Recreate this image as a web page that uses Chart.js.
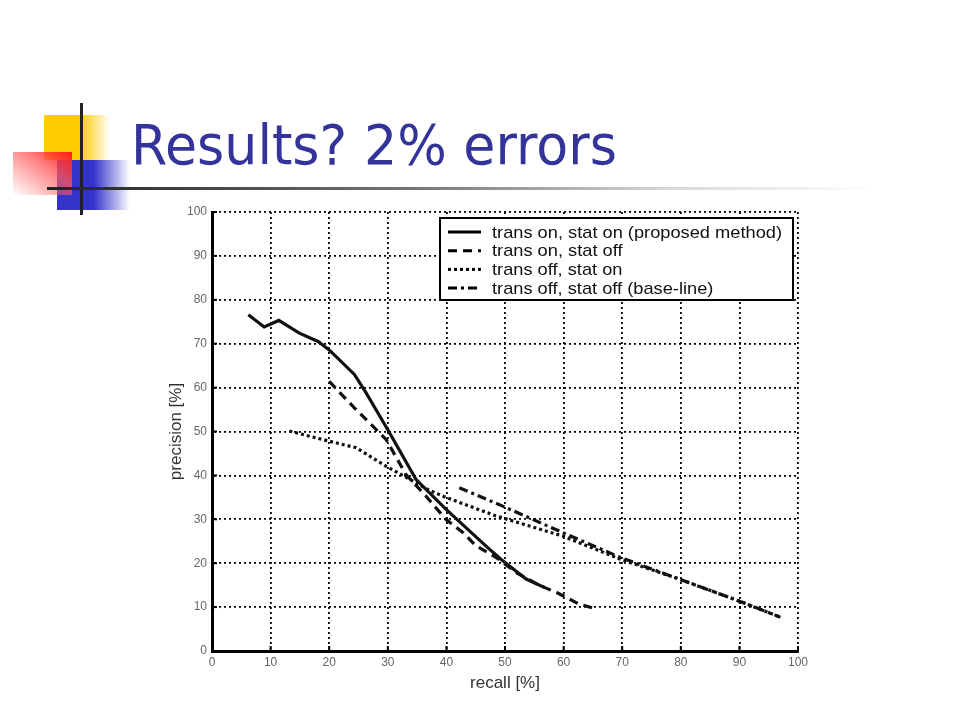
<!DOCTYPE html>
<html>
<head>
<meta charset="utf-8">
<script src="https://cdn.jsdelivr.net/npm/chart.js@4.4.1/dist/chart.umd.min.js"></script>
<style>
    html, body { margin: 0; padding: 0; background: #fff; }
    body { width: 960px; height: 720px; position: relative; overflow: hidden; }
    .deco { position: absolute; }
    #yellow { left: 44px; top: 115px; width: 66px; height: 45px;
        background: linear-gradient(to right, #ffcc00 0%, #ffcc00 55%, rgba(255,204,0,0) 100%); }
    #blue { left: 57px; top: 160px; width: 73px; height: 50px;
        background: linear-gradient(to right, #3333cc 0%, #3333cc 50%, rgba(51,51,204,0) 100%); }
    #red { left: 13px; top: 152px; width: 59px; height: 43px;
        background: linear-gradient(to bottom left, #ff1a1a 0%, rgba(255,90,90,0.75) 40%, rgba(255,255,255,0) 100%); }
    #vline { left: 80px; top: 103px; width: 3px; height: 112px; background: #222; }
    #hline { left: 47px; top: 187px; width: 830px; height: 3px;
        background: linear-gradient(to right, #222 0%, #777 45%, #d8d8d8 75%, rgba(255,255,255,0) 100%); }
    #title { position: absolute; left: 131px; top: 118px; margin: 0;
        font-family: "DejaVu Sans", sans-serif; font-size: 55px; line-height: 55px;
        font-weight: normal; color: #333399; white-space: nowrap; transform-origin: left top; }
    #chart-wrap { position: absolute; left: 0; top: 0; width: 960px; height: 720px; }
</style>
</head>
<body>
<div class="deco" id="yellow"></div>
<div class="deco" id="blue"></div>
<div class="deco" id="red"></div>
<div class="deco" id="vline"></div>
<div class="deco" id="hline"></div>
<h1 id="title">Results? 2% errors</h1>
<div id="chart-wrap"><canvas id="pr-chart" width="960" height="720"></canvas></div>
<script>
// values (recall %, precision %)
const seriesLabels = [
    "trans on, stat on (proposed method)",
    "trans on, stat off",
    "trans off, stat on",
    "trans off, stat off (base-line)"
];

const proposedRecall = [6.2, 8.9, 11.4, 14.9, 18.1, 20, 24.3, 26.3, 30, 34.8, 39.9, 47, 49.3, 53.6, 56.7];
const proposedPrecision = [76.6, 73.8, 75.3, 72.4, 70.5, 68.6, 63, 58.8, 50.4, 39.1, 32.3, 23.6, 20.9, 16.4, 14.5];

const statOffRecall = [20, 24.3, 29.7, 33.1, 36.5, 39.9, 42.8, 45, 48.5, 52, 55.8, 59, 62.6, 65.5];
const statOffPrecision = [61.4, 55.4, 48.2, 40.2, 35.3, 30, 27, 24, 21.3, 17.8, 15, 13.2, 10.7, 9.6];

const transOffRecall = [13.2, 20, 24.6, 29.7, 34.3, 37.1, 39.9, 48.4, 59.8, 69.7, 79.7, 89.9, 97];
const transOffPrecision = [50.1, 47.8, 46.3, 42.1, 38.7, 36.6, 35, 30.8, 26.2, 20.9, 16.4, 11.4, 7.7];

const baselineRecall = [42.2, 49.6, 59.8, 69.7, 79.7, 89.9, 97];
const baselinePrecision = [37.2, 33, 27, 21.3, 16.4, 11.4, 7.7];

const tickValues = [0, 10, 20, 30, 40, 50, 60, 70, 80, 90, 100];

// fit the slide title to the width it has in the picture
const fitTitle = () => {
    const title = document.getElementById("title");
    const w = title.getBoundingClientRect().width;
    title.style.transform = `scaleX(${486 / w})`;
}

const toPoints = (xs, ys) => xs.map((x, i) => ({ x: x, y: ys[i] }));

const makeDataset = (label, xs, ys, dash, width = 3) => ({
    label: label,
    data: toPoints(xs, ys),
    showLine: true,
    borderColor: "#111",
    backgroundColor: "#111",
    borderWidth: width,
    borderDash: dash,
    pointRadius: 0,
    tension: 0
});

// MATLAB style legend box drawn inside the axes
const boxLegend = {
    id: "boxLegend",
    afterDatasetsDraw(chart) {
        const ctx = chart.ctx;
        const left = 440, top = 218, right = 793, bottom = 300;
        ctx.save();
        ctx.fillStyle = "#fff";
        ctx.fillRect(left, top, right - left, bottom - top);
        ctx.strokeStyle = "#000";
        ctx.lineWidth = 2;
        ctx.setLineDash([]);
        ctx.strokeRect(left, top, right - left, bottom - top);
        ctx.font = "17px 'Liberation Sans', Arial, sans-serif";
        ctx.fillStyle = "#111";
        ctx.textBaseline = "middle";
        // stretch text so the longest entry spans the same width as in the picture
        const stretch = 290 / ctx.measureText(chart.data.datasets[0].label).width;
        chart.data.datasets.forEach((ds, i) => {
            const y = 232 + i * 18.7;
            ctx.beginPath();
            ctx.lineWidth = 3;
            ctx.setLineDash(ds.borderDash);
            ctx.moveTo(448, y);
            ctx.lineTo(481, y);
            ctx.stroke();
            ctx.setLineDash([]);
            ctx.save();
            ctx.translate(492, y + 1);
            ctx.scale(stretch, 1);
            ctx.fillText(ds.label, 0, 0);
            ctx.restore();
        });
        ctx.restore();
    }
}

// small inward tick marks along the bottom and left axes
const innerTicks = {
    id: "innerTicks",
    afterDraw(chart) {
        const ctx = chart.ctx;
        const xs = chart.scales.x, ys = chart.scales.y;
        const area = chart.chartArea;
        ctx.save();
        ctx.strokeStyle = "#000";
        ctx.lineWidth = 2;
        tickValues.forEach(v => {
            const px = xs.getPixelForValue(v);
            ctx.beginPath();
            ctx.moveTo(px, area.bottom);
            ctx.lineTo(px, area.bottom - 5);
            ctx.stroke();
            const py = ys.getPixelForValue(v);
            ctx.beginPath();
            ctx.moveTo(area.left, py);
            ctx.lineTo(area.left + 5, py);
            ctx.stroke();
        });
        ctx.restore();
    }
}

const main = () => {
    fitTitle();

    const tickFont = { family: "'Liberation Sans', Arial, sans-serif", size: 12 };
    const titleFont = { family: "'Liberation Sans', Arial, sans-serif", size: 17 };

    const config = {
        type: "scatter",
        data: {
            datasets: [
                makeDataset(seriesLabels[0], proposedRecall, proposedPrecision, [], 3.2),
                makeDataset(seriesLabels[1], statOffRecall, statOffPrecision, [9, 6], 3.2),
                makeDataset(seriesLabels[2], transOffRecall, transOffPrecision, [3, 3], 3.2),
                makeDataset(seriesLabels[3], baselineRecall, baselinePrecision, [9, 4, 3, 4], 3.2)
            ]
        },
        options: {
            responsive: false,
            animation: false,
            layout: { padding: { left: 166, top: 212, right: 162, bottom: 26 } },
            plugins: { legend: { display: false }, tooltip: { enabled: false } },
            scales: {
                x: {
                    type: "linear",
                    min: 0,
                    max: 100,
                    afterBuildTicks: scale => { scale.ticks = tickValues.map(v => ({ value: v })); },
                    afterFit: scale => { scale.height = 43; },
                    ticks: { color: "#666", font: tickFont, padding: 4 },
                    grid: { color: "#000", lineWidth: 1.8, drawTicks: false },
                    border: { display: true, color: "#000", width: 3, dash: [2, 3] },
                    title: { display: true, text: "recall [%]", color: "#333", font: titleFont, padding: { top: 2, bottom: 0 } }
                },
                y: {
                    type: "linear",
                    min: 0,
                    max: 100,
                    afterBuildTicks: scale => { scale.ticks = tickValues.map(v => ({ value: v })); },
                    afterFit: scale => { scale.width = 46; },
                    ticks: { color: "#666", font: tickFont, padding: 5 },
                    grid: { color: "#000", lineWidth: 1.8, drawTicks: false },
                    border: { display: true, color: "#000", width: 3, dash: [2, 3] },
                    title: { display: true, text: "precision [%]", color: "#333", font: titleFont, padding: { top: 0, bottom: 2 } }
                }
            }
        },
        plugins: [boxLegend, innerTicks]
    };

    new Chart(document.getElementById("pr-chart"), config);
}

main()
</script>
</body>
</html>
